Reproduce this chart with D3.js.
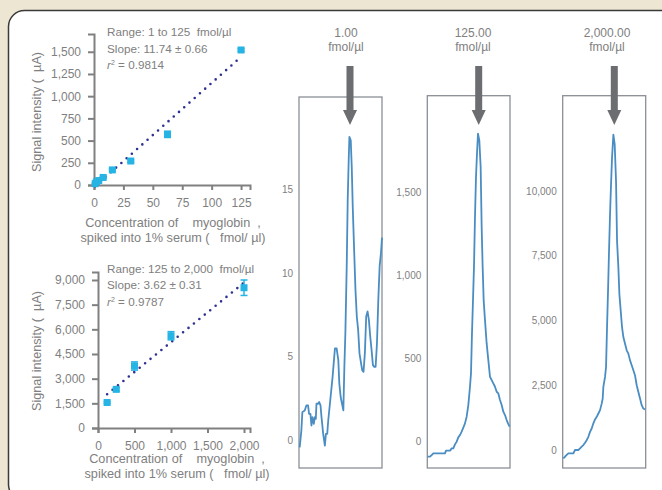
<!DOCTYPE html>
<html>
<head>
<meta charset="utf-8">
<script src="https://d3js.org/d3.v7.min.js"></script>
<style>
  body { margin: 0; background: #ece6d3; font-family: 'Liberation Sans', Arial, sans-serif; }
  .axis path, .axis line { stroke: #808080; stroke-width: 2; }
  .axis text { fill: #7f7f7f; font-size: 12px; font-family: 'Liberation Sans', Arial, sans-serif; }
  .caxis text { fill: #7f7f7f; font-size: 10px; font-family: 'Liberation Sans', Arial, sans-serif; }
  .note { fill: #808080; font-size: 11.7px; white-space: pre; }
  .title { fill: #808080; font-size: 12.7px; white-space: pre; }
</style>
</head>
<body>
<div id="container"></div>
<script>
// calibration, low range
const conc1 = [1, 2, 4, 7.8, 15.6, 31.25, 62.5, 125];
const signal1 = [15, 35, 50, 85, 170, 270, 570, 1520];
const err1 = [5, 5, 8, 10, 12, 15, 35, 15];
const fit1 = { slope: 11.74, intercept: -25, from: 1, to: 125 };
const xTicks1 = [0, 25, 50, 75, 100, 125];
const yTicks1 = [0, 250, 500, 750, 1000, 1250, 1500];
const notes1 = ["Range: 1 to 125  fmol/µl", "Slope: 11.74 ± 0.66", "0.9814"];

// calibration, high range
const conc2 = [125, 250, 500, 1000, 2000];
const signal2 = [1550, 2350, 3770, 5610, 8530];
const err2 = [60, 100, 250, 250, 470];
const fit2 = { slope: 3.62, intercept: 1600, from: 125, to: 2000 };
const xTicks2 = [0, 500, 1000, 1500, 2000];
const yTicks2 = [0, 1500, 3000, 4500, 6000, 7500, 9000];
const notes2 = ["Range: 125 to 2,000  fmol/µl", "Slope: 3.62 ± 0.31", "0.9787"];

// chromatograms (scan number, signal)
const scans1 = [60,65,68,75,80,85,88,92,95,98,102,105,108,110,115,118,122,125,130,135,138,142,145,150,155,158,162,165,170,175,178,182,186,190,193,196,200,203,206,208,212,215,218,222,226,230,234,238,242,246,250,254,258,262,266,270,274,278,282,286,290,294,298,302,305];
const trace1 = [-0.4,0.6,1.7,1.8,2.1,2.1,1.6,1.6,0.9,1.4,1.0,1.4,1.3,2.2,2.2,2.3,2.1,1.4,0.4,-0.3,0.4,0.4,1.2,2.2,3.2,3.8,4.8,5.5,5.5,4.8,3.4,2.6,2.2,1.8,4.4,6.4,10.4,14.4,16.8,18.1,17.9,16.3,13.9,11.4,9.0,7.4,6.6,5.2,4.7,4.2,4.1,5.2,7.4,7.7,7.2,6.2,5.4,4.5,4.4,4.4,5.8,8.4,10.4,11.2,12.1];
const scans2 = [128,135,140,145,180,183,195,200,205,210,215,220,225,230,235,240,245,250,255,258,261,264,267,270,273,276,279,283,287,290,293,296,300,305,310,315,320,325,330,335,340,345,350,355,360,365,370,374];
const trace2 = [-90,-90,-80,-70,-70,-54,-54,-40,-40,-16,0,26,40,60,84,110,150,220,330,410,650,850,1050,1350,1590,1730,1850,1810,1650,1290,1050,850,730,590,490,390,370,350,330,300,290,250,220,180,160,130,106,90];
const scans3 = [130,135,140,145,160,165,175,180,185,190,195,200,205,210,215,220,225,230,235,240,245,248,250,255,258,261,264,267,270,273,276,280,284,288,291,295,298,302,306,310,315,320,325,330,335,340,345,350,355,360,365,370,375];
const trace3 = [-320,-260,-190,-130,-130,0,0,60,130,190,280,380,510,700,830,1030,1180,1280,1410,1540,1790,1990,2440,2820,3200,4740,6150,7690,9100,10260,11280,12180,11800,10380,8080,7050,6030,5380,4740,4360,4100,3850,3720,3460,3270,3080,2880,2500,2240,1990,1730,1600,1560];

const chromTitles = ["1.00", "125.00", "2,000.00"];
const chromTicks = [[0, 5, 10, 15], [0, 500, 1000, 1500], [0, 2500, 5000, 7500, 10000]];

const width = 662, height = 490;
const svg = d3.select("#container").append("svg")
  .attr("width", width).attr("height", height);

svg.append("rect")
  .attr("x", 8.5).attr("y", 10.5).attr("width", 670).attr("height", 490).attr("rx", 16)
  .attr("fill", "#fff").attr("stroke", "#3a3a3a").attr("stroke-width", 1.5);

const fmt = d3.format(",");
const cyan = "#25b4e3", navy = "#2e3192";

function calib(opt) {
  const x = d3.scaleLinear().domain(opt.xDomain).range([opt.left, opt.right]);
  const y = d3.scaleLinear().domain(opt.yDomain).range([opt.bottom, opt.top]);
  const g = svg.append("g");

  g.append("g").attr("class", "axis")
    .attr("transform", `translate(0,${opt.bottom})`)
    .call(d3.axisBottom(x).tickValues(opt.xTicks).tickFormat(fmt).tickSizeOuter(0).tickSize(5).tickPadding(8));
  g.append("g").attr("class", "axis")
    .attr("transform", `translate(${opt.left},0)`)
    .call(d3.axisLeft(y).tickValues(opt.yTicks).tickFormat(fmt).tickSizeOuter(0).tickSize(6).tickPadding(7));

  // fit line, dotted
  g.append("line")
    .attr("x1", x(opt.fit.from)).attr("y1", y(opt.fit.slope * opt.fit.from + opt.fit.intercept))
    .attr("x2", x(opt.fit.to)).attr("y2", y(opt.fit.slope * opt.fit.to + opt.fit.intercept))
    .attr("stroke", navy).attr("stroke-width", 2.6)
    .attr("stroke-linecap", "round").attr("stroke-dasharray", "0 7");

  const pts = opt.conc.map((c, i) => ({ c, v: opt.signal[i], e: opt.err[i] }));
  const eb = g.selectAll(".eb").data(pts).join("g").attr("stroke", cyan).attr("stroke-width", 1.5);
  eb.append("line").attr("x1", d => x(d.c)).attr("x2", d => x(d.c))
    .attr("y1", d => y(d.v - d.e)).attr("y2", d => y(d.v + d.e));
  eb.append("line").attr("x1", d => x(d.c) - 3.5).attr("x2", d => x(d.c) + 3.5)
    .attr("y1", d => y(d.v - d.e)).attr("y2", d => y(d.v - d.e));
  eb.append("line").attr("x1", d => x(d.c) - 3.5).attr("x2", d => x(d.c) + 3.5)
    .attr("y1", d => y(d.v + d.e)).attr("y2", d => y(d.v + d.e));
  g.selectAll(".pt").data(pts).join("rect")
    .attr("x", d => x(d.c) - 3.5).attr("y", d => y(d.v) - 3.5)
    .attr("width", 7).attr("height", 7).attr("fill", cyan);

  // notes
  g.append("text").attr("class", "note").attr("x", 107).attr("y", opt.noteY[0]).text(opt.notes[0]);
  g.append("text").attr("class", "note").attr("x", 107).attr("y", opt.noteY[1]).text(opt.notes[1]);
  const r2 = g.append("text").attr("class", "note").attr("x", 107).attr("y", opt.noteY[2]);
  r2.append("tspan").attr("font-style", "italic").text("r");
  r2.append("tspan").attr("font-size", "7px").attr("dy", -4).text("2");
  r2.append("tspan").attr("dy", 4).text(" = " + opt.notes[2]);

  // axis titles
  g.append("text").attr("class", "title").attr("text-anchor", "middle")
    .attr("transform", `translate(41,${opt.yTitleY}) rotate(-90)`)
    .text("Signal intensity (  µA)");
  g.append("text").attr("class", "title").attr("text-anchor", "middle")
    .attr("x", opt.xTitleX).attr("y", opt.xTitleY)
    .text("Concentration of    myoglobin  ,");
  g.append("text").attr("class", "title").attr("text-anchor", "middle")
    .attr("x", opt.xTitleX).attr("y", opt.xTitleY + 14.5)
    .text("spiked into 1% serum (   fmol/ µl)");
}

calib({
  conc: conc1, signal: signal1, err: err1, fit: fit1, xTicks: xTicks1, yTicks: yTicks1, notes: notes1,
  xDomain: [0, 132.6], yDomain: [0, 1700], left: 94, right: 250, top: 34, bottom: 185,
  noteY: [36, 53, 69], yTitleY: 112, xTitleX: 173, xTitleY: 227
});
calib({
  conc: conc2, signal: signal2, err: err2, fit: fit2, xTicks: xTicks2, yTicks: yTicks2, notes: notes2,
  xDomain: [0, 2082], yDomain: [0, 9486], left: 98, right: 250, top: 272, bottom: 428,
  noteY: [273, 289, 306], yTitleY: 351, xTitleX: 177, xTitleY: 463
});

// chromatograms
const chrom = [
  { scans: scans1, trace: trace1, sDomain: [58, 305], yDomain: [-1.63, 20.48], left: 299, right: 382, top: 97, arrowX: 350, titleX: 346 },
  { scans: scans2, trace: trace2, sDomain: [127, 375], yDomain: [-158, 2078], left: 427.3, right: 510, top: 95.7, arrowX: 478.7, titleX: 473 },
  { scans: scans3, trace: trace3, sDomain: [128, 377], yDomain: [-695, 13680], left: 562.7, right: 645.7, top: 95.7, arrowX: 614.3, titleX: 607 }
];
const chromBottom = 468;

chrom.forEach((c, k) => {
  const x = d3.scaleLinear().domain(c.sDomain).range([c.left, c.right]);
  const y = d3.scaleLinear().domain(c.yDomain).range([chromBottom, c.top]);
  const g = svg.append("g");

  g.append("rect").attr("x", c.left).attr("y", c.top)
    .attr("width", c.right - c.left).attr("height", chromBottom - c.top)
    .attr("fill", "none").attr("stroke", "#8a8f95").attr("stroke-width", 1.3);

  const ax = g.append("g").attr("class", "caxis")
    .attr("transform", `translate(${c.left},0)`)
    .call(d3.axisLeft(y).tickValues(chromTicks[k]).tickFormat(fmt).tickSize(0).tickPadding(6));
  ax.select(".domain").remove();

  const line = d3.line().x(d => x(d[0])).y(d => y(d[1]));
  g.append("path").datum(c.scans.map((s, i) => [s, c.trace[i]]))
    .attr("d", line).attr("fill", "none")
    .attr("stroke", "#4a8dc3").attr("stroke-width", 1.8).attr("stroke-linejoin", "round");

  g.append("text").attr("class", "title").attr("text-anchor", "middle")
    .attr("x", c.titleX).attr("y", 37).style("font-size", "12px").text(chromTitles[k]);
  g.append("text").attr("class", "title").attr("text-anchor", "middle")
    .attr("x", c.titleX).attr("y", 50.5).style("font-size", "12px").text("fmol/µl");

  // arrow
  const a = c.arrowX;
  g.append("rect").attr("x", a - 3.5).attr("y", 66).attr("width", 7).attr("height", 45).attr("fill", "#6b6d70");
  g.append("path").attr("d", `M${a - 7},110 L${a + 7},110 L${a},125 Z`).attr("fill", "#6b6d70");
});
</script>
</body>
</html>
